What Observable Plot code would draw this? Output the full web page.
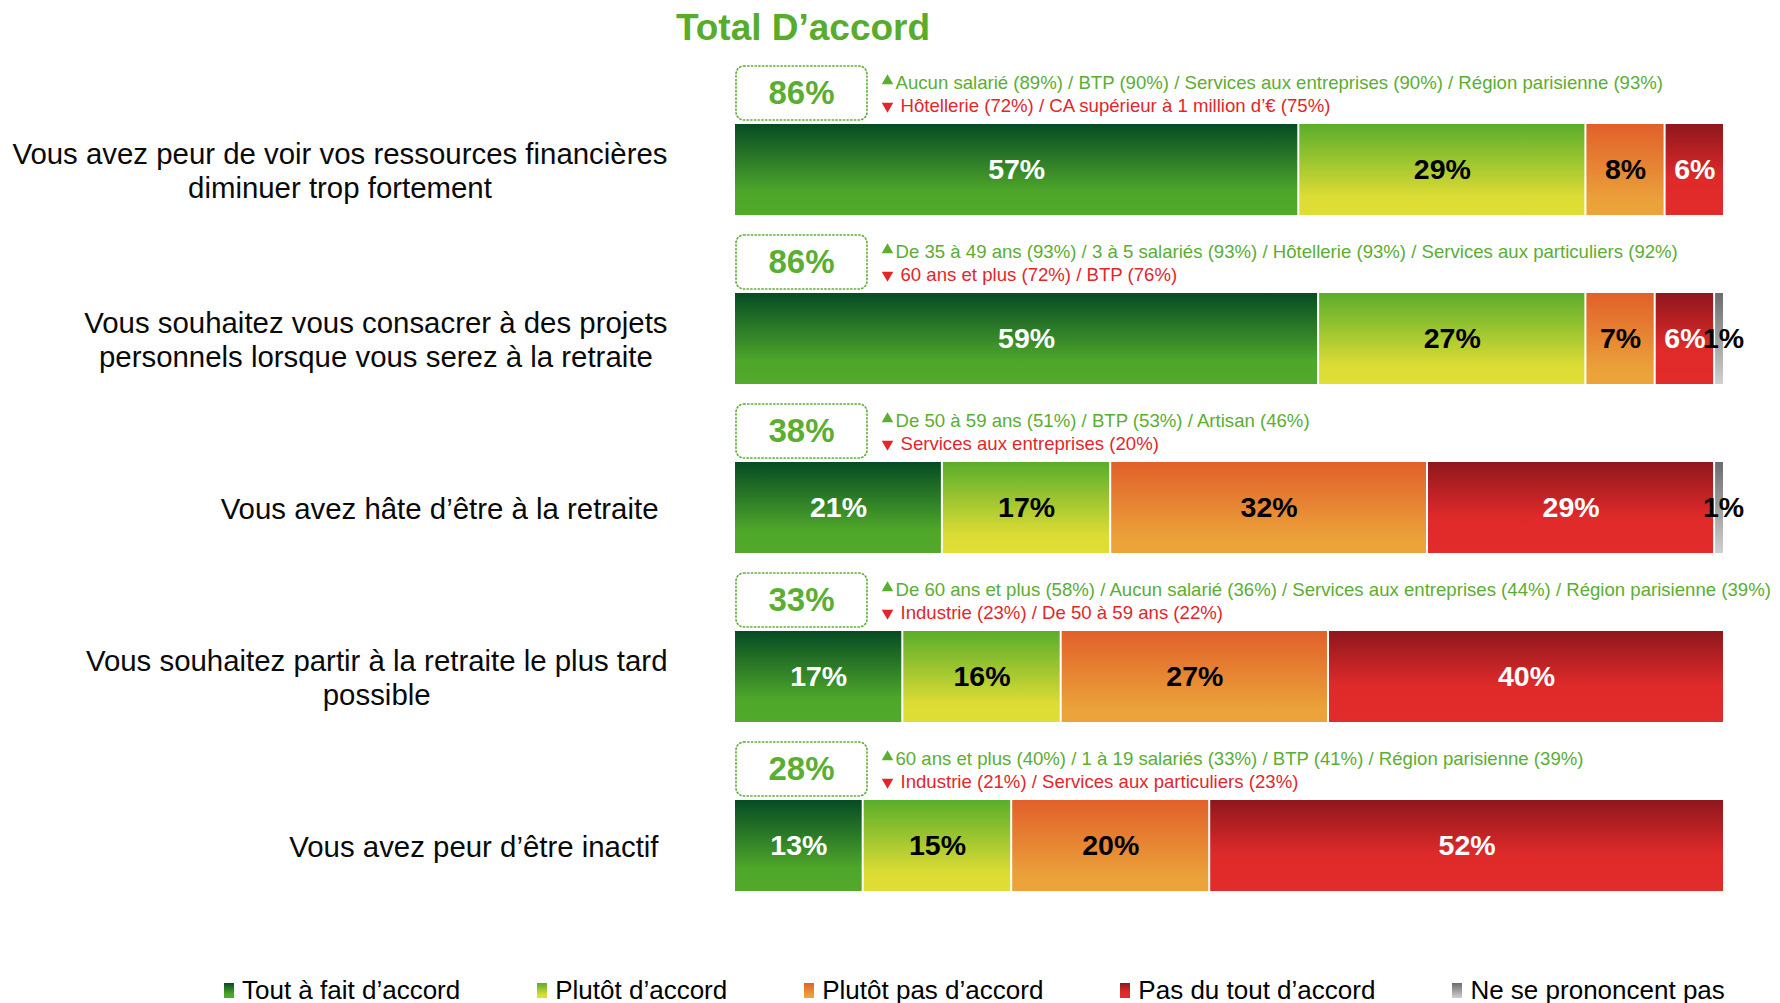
<!DOCTYPE html>
<html><head><meta charset="utf-8">
<script src="https://cdn.jsdelivr.net/npm/d3@7"></script>
<script src="https://cdn.jsdelivr.net/npm/@observablehq/plot@0.6"></script>
<style>
body{margin:0;background:#fff;font-family:"Liberation Sans",Arial,sans-serif;width:1780px;height:1003px;overflow:hidden}
#title{position:relative;height:50px}
#title span{position:absolute;left:803px;top:9px;transform:translateX(-50%);font-size:37px;font-weight:bold;color:#58ac2c;line-height:1;white-space:nowrap}
#chart svg{display:block}
#legend{display:flex;padding-left:224px;column-gap:77px;padding-top:20px;height:40px;box-sizing:border-box}
.item{display:flex;align-items:center;font-size:26px;line-height:26px;color:#000;white-space:nowrap}
.sw{width:10px;height:15px;margin-right:8px}
</style>
</head><body>
<div id="title"><span>Total D’accord</span></div>
<div id="chart"></div>
<div id="legend"></div>
<script>
const questions = [
  "Vous avez peur de voir vos ressources financières\ndiminuer trop fortement",
  "Vous souhaitez vous consacrer à des projets\npersonnels lorsque vous serez à la retraite",
  "Vous avez hâte d’être à la retraite",
  "Vous souhaitez partir à la retraite le plus tard\npossible",
  "Vous avez peur d’être inactif"
];
const categories = ["Tout à fait d’accord", "Plutôt d’accord", "Plutôt pas d’accord", "Pas du tout d’accord", "Ne se prononcent pas"];
const toutAFait = [57, 59, 21, 17, 13];
const plutot = [29, 27, 17, 16, 15];
const plutotPas = [8, 7, 32, 27, 20];
const pasDuTout = [6, 6, 29, 40, 52];
const nsp = [0, 1, 1, 0, 0];
const totalAccord = [86, 86, 38, 33, 28];
const hausses = [
  "Aucun salarié (89%) / BTP (90%) / Services aux entreprises (90%) / Région parisienne (93%)",
  "De 35 à 49 ans (93%) / 3 à 5 salariés (93%) / Hôtellerie (93%) / Services aux particuliers (92%)",
  "De 50 à 59 ans (51%) / BTP (53%) / Artisan (46%)",
  "De 60 ans et plus (58%) / Aucun salarié (36%) / Services aux entreprises (44%) / Région parisienne (39%)",
  "60 ans et plus (40%) / 1 à 19 salariés (33%) / BTP (41%) / Région parisienne (39%)"
];
const baisses = [
  "Hôtellerie (72%) / CA supérieur à 1 million d’€ (75%)",
  "60 ans et plus (72%) / BTP (76%)",
  "Services aux entreprises (20%)",
  "Industrie (23%) / De 50 à 59 ans (22%)",
  "Industrie (21%) / Services aux particuliers (23%)"
];

// styles
const gradients = [
  [[0, "#064b24"], [0.75, "#4fa72a"], [1, "#52a92a"]],
  [[0, "#5aad2b"], [0.8, "#dcdc35"], [1, "#dede36"]],
  [[0, "#e1602a"], [0.85, "#eba23a"], [1, "#eca43a"]],
  [[0, "#8f171d"], [0.6, "#df2a2a"], [1, "#e22c2b"]],
  [[0, "#6c6c6c"], [1, "#d0d0d0"]]
];
const green = "#5aae31", red = "#e3262a";
const W = 1780, H = 910, ML = 734, MR = 56;

const series = [toutAFait, plutot, plutotPas, pasDuTout, nsp];
const rows = [];
questions.forEach((q, i) => series.forEach((s, j) => { if (s[i] > 0) rows.push({q, cat: categories[j], value: s[i], k: j}); }));
const notes = questions.map((q, i) => ({q, total: totalAccord[i], up: hausses[i], down: baisses[i]}));

const LABEL_SIZE = 29.4;
const ctx = document.createElement("canvas").getContext("2d");
ctx.font = `${LABEL_SIZE}px 'Liberation Sans'`;
function labelDx(q) {
  const lines = q.split("\n");
  const w = d3.max(lines, l => ctx.measureText(l).width);
  const right = lines.length > 1 ? 667 : 658;
  return right - w / 2 - ML;
}
const isWhite = d => d.k === 0 || d.k === 3;

const svg = Plot.plot({
  width: W, height: H, marginLeft: ML, marginRight: MR, marginTop: 35, marginBottom: 30,
  x: {domain: [0, 100], axis: null},
  y: {domain: questions, axis: null, paddingInner: 0.46, paddingOuter: 0.23},
  color: {domain: categories, range: categories.map((c, j) => `url(#grad${j})`)},
  style: {fontFamily: "'Liberation Sans', Arial, sans-serif", background: "white", overflow: "visible"},
  marks: [
    Plot.barX(rows, Plot.stackX({x: "value", y: "q", fill: "cat", insetLeft: 1, insetRight: 1})),
    Plot.text(rows, Plot.stackX({x: "value", y: "q", text: d => isWhite(d) ? d.value + "%" : null, fill: "white", fontSize: 28.5, fontWeight: "bold"})),
    Plot.text(rows, Plot.stackX({x: "value", y: "q", text: d => (isWhite(d) || d.k === 4) ? null : d.value + "%", fill: "black", fontSize: 28.5, fontWeight: "bold"})),
    Plot.text(rows, Plot.stackX({x: "value", y: "q", text: d => d.k === 4 ? d.value + "%" : null, fill: "black", fontSize: 28.5, fontWeight: "bold", dx: 4})),
    Plot.barX(notes, {x1: () => 0, x2: () => 0, y: "q", insetLeft: 2, insetRight: -133, insetTop: -58, insetBottom: 95, rx: 8, fill: "white", stroke: green, strokeWidth: 1.6, strokeDasharray: "1.3 2.4", strokeLinecap: "round"}),
    Plot.text(notes, {frameAnchor: "left", y: "q", text: d => d.total + "%", dx: 67, dy: -77, fill: green, fontSize: 33, fontWeight: "bold", textAnchor: "middle"}),
    Plot.dot(notes, {frameAnchor: "left", y: "q", symbol: "triangle", r: 4.3, dx: 153, dy: -89, fill: green, stroke: "none"}),
    Plot.dot(notes, {frameAnchor: "left", y: "q", symbol: "triangle", r: 4.3, rotate: 180, dx: 153, dy: -64, fill: red, stroke: "none"}),
    Plot.text(notes, {frameAnchor: "left", y: "q", text: "up", dx: 161, dy: -87, fill: green, fontSize: 18.6, textAnchor: "start"}),
    Plot.text(notes, {frameAnchor: "left", y: "q", text: "down", dx: 166, dy: -64, fill: red, fontSize: 18.6, textAnchor: "start"}),
    ...questions.map(q => Plot.text([q], {frameAnchor: "left", y: d => d, text: d => d, dx: labelDx(q), textAnchor: "middle", fontSize: LABEL_SIZE, lineHeight: 1.16, fill: "#0a0a0a"}))
  ]
});

const defs = d3.select(svg).insert("defs", ":first-child");
gradients.forEach((stops, j) => {
  const g = defs.append("linearGradient").attr("id", `grad${j}`).attr("x1", 0).attr("y1", 0).attr("x2", 0).attr("y2", 1);
  stops.forEach(([o, c]) => g.append("stop").attr("offset", o).attr("stop-color", c));
});
document.getElementById("chart").appendChild(svg);

const legend = d3.select("#legend");
categories.forEach((c, j) => {
  const it = legend.append("div").attr("class", "item");
  it.append("div").attr("class", "sw")
    .style("background", `linear-gradient(to bottom, ${gradients[j].map(([o, col]) => `${col} ${o * 100}%`).join(", ")})`);
  it.append("span").text(c);
});
</script>
</body></html>
